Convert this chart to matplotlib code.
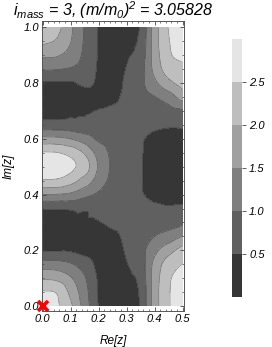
import numpy as np
import matplotlib
matplotlib.use("Agg")
import matplotlib.pyplot as plt
import matplotlib.tri as mtri
from matplotlib.colors import ListedColormap, BoundaryNorm
from matplotlib.ticker import MultipleLocator

plt.rcParams['font.family'] = ['Liberation Sans', 'DejaVu Sans']
plt.rcParams['mathtext.fontset'] = 'custom'
plt.rcParams['mathtext.rm'] = 'Liberation Sans:italic'
plt.rcParams['mathtext.it'] = 'Liberation Sans:italic'

# grid coordinates of sampled values (Re z, Im z)
re_vals = [0.00, 0.05, 0.10, 0.15, 0.20, 0.25, 0.30, 0.35, 0.40, 0.45, 0.50]
im_vals = [0.00, 0.05, 0.10, 0.15, 0.20, 0.25, 0.30, 0.35, 0.40, 0.45, 0.50,
           0.55, 0.60, 0.65, 0.70, 0.75, 0.80, 0.85, 0.90, 0.95, 1.00]

# values, one row per Im value
field = [
    [2.75, 2.60, 2.10, 1.30, 0.48, 0.25, 0.30, 0.55, 1.75, 2.45, 2.90],
    [2.55, 2.47, 1.88, 1.20, 0.47, 0.25, 0.32, 0.58, 1.75, 2.45, 2.85],
    [1.93, 1.88, 1.55, 1.05, 0.45, 0.25, 0.40, 0.65, 1.72, 2.42, 2.70],
    [1.23, 1.20, 1.05, 0.75, 0.38, 0.25, 0.48, 0.75, 1.65, 2.25, 2.52],
    [0.47, 0.47, 0.45, 0.35, 0.30, 0.30, 0.55, 0.85, 1.35, 1.80, 2.20],
    [0.25, 0.22, 0.20, 0.22, 0.25, 0.40, 0.60, 0.78, 1.00, 1.20, 1.52],
    [0.30, 0.28, 0.42, 0.45, 0.48, 0.60, 0.65, 0.70, 0.75, 0.80, 0.90],
    [0.55, 0.55, 0.55, 0.55, 0.60, 0.68, 0.65, 0.62, 0.58, 0.55, 0.58],
    [1.50, 1.48, 1.40, 1.15, 0.92, 0.78, 0.63, 0.53, 0.40, 0.35, 0.35],
    [2.45, 2.42, 2.20, 1.80, 1.25, 0.88, 0.62, 0.53, 0.32, 0.27, 0.25],
    [2.90, 2.85, 2.62, 2.25, 1.45, 0.92, 0.62, 0.53, 0.30, 0.25, 0.22],
    [2.55, 2.52, 2.35, 1.95, 1.30, 0.88, 0.62, 0.53, 0.32, 0.27, 0.25],
    [1.65, 1.62, 1.50, 1.25, 0.92, 0.78, 0.63, 0.53, 0.42, 0.35, 0.35],
    [0.70, 0.70, 0.68, 0.62, 0.65, 0.68, 0.65, 0.62, 0.57, 0.55, 0.57],
    [0.30, 0.32, 0.40, 0.45, 0.52, 0.58, 0.65, 0.70, 0.78, 0.82, 0.93],
    [0.25, 0.22, 0.20, 0.25, 0.35, 0.40, 0.62, 0.80, 0.98, 1.25, 1.70],
    [0.45, 0.45, 0.45, 0.60, 0.42, 0.30, 0.58, 0.88, 1.38, 1.85, 2.20],
    [1.05, 1.02, 0.95, 0.80, 0.45, 0.30, 0.52, 0.80, 1.65, 2.25, 2.40],
    [1.60, 1.55, 1.30, 0.90, 0.47, 0.28, 0.45, 0.70, 1.72, 2.42, 2.60],
    [2.10, 1.95, 1.52, 0.95, 0.47, 0.25, 0.38, 0.62, 1.75, 2.47, 2.75],
    [2.40, 2.15, 1.60, 0.95, 0.48, 0.25, 0.30, 0.55, 1.75, 2.52, 2.85],
]

levels = [0.0, 0.5, 1.0, 1.5, 2.0, 2.5, 3.2]
band_colors = ['#363636', '#606060', '#7f7f7f', '#a0a0a0', '#bebebe', '#e5e5e5']
cbar_ticks = [0.5, 1.0, 1.5, 2.0, 2.5]
x_ticks = [0.0, 0.1, 0.2, 0.3, 0.4, 0.5]
y_ticks = [0.0, 0.2, 0.4, 0.6, 0.8, 1.0]
marker_pt = (0.0, 0.0)

title = r'i$_{mass}$ = 3, (m/m$_0$)$^2$ = 3.05828'

fig = plt.figure(figsize=(2.72, 3.47), dpi=100)
ax = fig.add_axes([0.1533, 0.1037, 0.5243, 0.8357])

X, Y = np.meshgrid(re_vals, im_vals)
Z = np.array(field)
tri = mtri.Triangulation(X.ravel(), Y.ravel())
refiner = mtri.UniformTriRefiner(tri)
interp = mtri.CubicTriInterpolator(tri, Z.ravel(), kind='geom')
tri_f, z_f = refiner.refine_field(Z.ravel(), triinterpolator=interp, subdiv=3)

cmap = ListedColormap(band_colors)
norm = BoundaryNorm(levels, cmap.N)
cf = ax.tricontourf(tri_f, z_f, levels=levels, cmap=cmap, norm=norm, extend='neither')
ax.tricontour(tri_f, z_f, levels=levels[1:-1], colors='#2a2a2a', linewidths=0.5, alpha=0.55)

ax.plot([marker_pt[0]], [marker_pt[1]], marker='x', color='red', markersize=7,
        mew=2.6, clip_on=False, zorder=10)

ax.set_xlim(-0.003, 0.506)
ax.set_ylim(-0.018, 1.023)
ax.set_xticks(x_ticks)
ax.set_yticks(y_ticks)
ax.set_xticklabels([f'{v:.1f}' for v in x_ticks], fontstyle='italic', fontsize=8)
ax.set_yticklabels([f'{v:.1f}' for v in y_ticks], fontstyle='italic', fontsize=8)
ax.xaxis.set_minor_locator(MultipleLocator(0.02))
ax.yaxis.set_minor_locator(MultipleLocator(0.05))
ax.tick_params(which='both', direction='in', top=True, right=True, color='#444444')
ax.tick_params(which='major', length=3, width=0.6, pad=2)
ax.tick_params(which='minor', length=1.5, width=0.5)
for s in ax.spines.values():
    s.set_color('#555555')
    s.set_linewidth(0.7)

ax.set_xlabel('Re[z]', fontstyle='italic', fontsize=8.5, labelpad=8)
ax.set_ylabel('Im[z]', fontstyle='italic', fontsize=8.5, labelpad=6)
ax.set_title(title, fontsize=11.5, fontstyle='italic', pad=3)

cax = fig.add_axes([0.853, 0.144, 0.037, 0.7435])
cb = fig.colorbar(cf, cax=cax, ticks=cbar_ticks, spacing='uniform')
cb.outline.set_visible(False)
cb.ax.minorticks_off()
cb.ax.set_yticklabels([f'{v:.1f}' for v in cbar_ticks], fontstyle='italic', fontsize=8)
cb.ax.tick_params(direction='out', length=3, width=0.6, color='#444444', pad=2)

fig.savefig('out.png', dpi=100)
